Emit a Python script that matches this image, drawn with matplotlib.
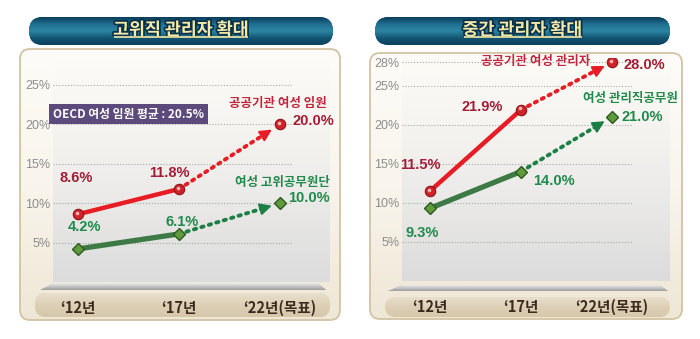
import numpy as np
import matplotlib.pyplot as plt
import matplotlib.colors as mcolors
import matplotlib.patheffects as pe
from matplotlib.patches import FancyBboxPatch, Polygon
from matplotlib.transforms import offset_copy

plt.rcParams['font.family'] = ['Noto Sans CJK KR', 'DejaVu Sans']

# ---------------- data ----------------
years = ["‘12년", "‘17년", "‘22년(목표)"]

left_title = "고위직 관리자 확대"
left_pub = [8.6, 11.8, 20.0]          # 공공기관 여성 임원
left_gov = [4.2, 6.1, 10.0]           # 여성 고위공무원단
left_ticks = [0, 5, 10, 15, 20, 25]
left_pub_name = "공공기관 여성 임원"
left_gov_name = "여성 고위공무원단"
oecd_text = "OECD 여성 임원 평균 : 20.5%"

right_title = "중간 관리자 확대"
right_pub = [11.5, 21.9, 28.0]        # 공공기관 여성 관리자
right_gov = [9.3, 14.0, 21.0]         # 여성 관리직공무원
right_ticks = [0, 5, 10, 15, 20, 25, 28]
right_pub_name = "공공기관 여성 관리자"
right_gov_name = "여성 관리직공무원"

RED = '#e81c24'
RED_TXT = '#a31d36'
RED_NAME = '#c3243e'
GREEN = '#3d7a45'
GREEN_DOT = '#1d7f45'
GREEN_TXT = '#1f8a4c'
NUM = ['Liberation Sans', 'DejaVu Sans']
KR = ['Noto Sans CJK KR', 'DejaVu Sans']

W, H = 700, 339
fig = plt.figure(figsize=(W / 100, H / 100), dpi=100)
fig.patch.set_facecolor('white')

bg = fig.add_axes([0, 0, 1, 1])
bg.set_xlim(0, W)
bg.set_ylim(H, 0)
bg.axis('off')


def vgrad(box, colors, alphas=None, clip=None, z=1):
    x0, y0, x1, y1 = box
    t = np.linspace(0, 1, 120)
    pos = np.linspace(0, 1, len(colors))
    rgb = np.array([mcolors.to_rgb(c) for c in colors])
    img = np.ones((120, 1, 4))
    for k in range(3):
        img[:, 0, k] = np.interp(t, pos, rgb[:, k])
    if alphas is not None:
        img[:, 0, 3] = np.interp(t, pos, alphas)
    im = bg.imshow(img, extent=(x0, x1, y1, y0), origin='upper',
                   aspect='auto', zorder=z, interpolation='bilinear')
    if clip is not None:
        im.set_clip_path(clip)
    return im


def rbox(x0, y0, w, h, r, fc, ec='none', lw=0, z=1):
    p = FancyBboxPatch((x0, y0), w, h, boxstyle=f'round,pad=0,rounding_size={r}',
                       fc=fc, ec=ec, lw=lw, zorder=z)
    bg.add_patch(p)
    return p


def decor(title, pill, panel, area, floor, band):
    # title pill
    x0, y0, x1, y1 = pill
    p = rbox(x0, y0, x1 - x0, y1 - y0, 14, '#1a5f80', z=2)
    vgrad(pill, ['#0a3d5a', '#1f6f90', '#2c86a3', '#145573', '#0b3f5c'], clip=p, z=2)
    t = bg.text((x0 + x1) / 2, (y0 + y1) / 2 - 1, title, ha='center', va='center',
                fontsize=12.5, fontweight='bold', color='#f4e9a6', zorder=4,
                path_effects=[pe.withStroke(linewidth=2.5, foreground='#08304a')])
    fig.canvas.draw()
    bb = t.get_window_extent().transformed(bg.transData.inverted())
    bg.plot([bb.x0 + 1, bb.x1 - 1], [max(bb.y0, bb.y1) - 2] * 2, color='#f4e9a6',
            lw=1.2, zorder=4, solid_capstyle='butt')

    # panel
    x0, y0, x1, y1 = panel
    p = rbox(x0, y0, x1 - x0, y1 - y0, 10, '#f8f4ea', z=1)
    vgrad(panel, ['#fdfcf8', '#f9f5ec', '#efe7d6'], clip=p, z=1)
    rbox(x0, y0, x1 - x0, y1 - y0, 10, 'none', ec='#d3c3a3', lw=1.3, z=3)

    # plot area shading
    vgrad(area, ['#f4f4f4', '#ececec', '#dcdcdc'], alphas=[0, 0.75, 1], z=1.5)

    # floor
    fx0, fx1, fy0, fy1 = floor
    poly = Polygon([(fx0 + 14, fy0), (fx1 - 8, fy0), (fx1, fy1), (fx0, fy1)],
                   closed=True, fc='#c8c8c8', ec='none', zorder=2)
    bg.add_patch(poly)
    vgrad((fx0, fy0, fx1, fy1), ['#ececec', '#c4c4c4', '#9b9b9b'], clip=poly, z=2)

    # x band
    x0, y0, x1, y1 = band
    p = rbox(x0, y0, x1 - x0, y1 - y0, 11, '#e1d5bd', z=2)
    vgrad(band, ['#e8dfcc', '#ddd0b6', '#d6c7aa'], clip=p, z=2)


decor(left_title, (29, 17, 333, 45), (20, 49, 340, 320), (53, 60, 330, 282),
      (40, 326, 283, 290), (35, 293, 330, 317))
decor(right_title, (375, 17, 670, 45), (370, 53, 682, 319), (402, 58, 670, 281),
      (388, 668, 285, 291), (385, 297, 670, 317))


def make_ax(box, xlim, ylim, ticks, grid_end):
    x0, y0, x1, y1 = box
    ax = fig.add_axes([x0 / W, 1 - y1 / H, (x1 - x0) / W, (y1 - y0) / H])
    ax.patch.set_alpha(0)
    ax.set_xlim(*xlim)
    ax.set_ylim(*ylim)
    for s in ax.spines.values():
        s.set_visible(False)
    ax.hlines(ticks, xlim[0], grid_end, colors='#a8a8a8', lw=0.8,
              linestyles=(0, (1, 1.6)), zorder=1)
    ax.set_yticks(ticks[1:], [f'{v}%' for v in ticks[1:]])
    ax.tick_params(axis='y', length=0, pad=2, labelsize=9, labelcolor='#8c8c8c')
    for lab in ax.get_yticklabels():
        lab.set_family(NUM)
    ax.set_xticks(range(len(years)), years)
    ax.tick_params(axis='x', length=0, pad=13, labelsize=10.5, labelcolor='#3d2a1e')
    for lab in ax.get_xticklabels():
        lab.set_fontweight('bold')
    return ax


def series(ax, vals, kind):
    xs = np.arange(len(vals))
    if kind == 'red':
        lc, dc = RED, RED
    else:
        lc, dc = GREEN, GREEN_DOT
    ax.plot(xs[:2], vals[:2], color=lc, lw=3.2 if kind == 'red' else 3.8,
            solid_capstyle='round', zorder=3)
    a = np.array([xs[1], vals[1]], float)
    b = np.array([xs[2], vals[2]], float)
    end = a + 0.86 * (b - a)
    ax.plot([a[0], end[0]], [a[1], end[1]], color=dc, lw=2.8,
            linestyle=(0, (0.6, 1.4)), dash_capstyle='round', zorder=3)
    tip = a + 0.92 * (b - a)
    tail = a + 0.84 * (b - a)
    ax.annotate('', xy=tip, xytext=tail,
                arrowprops=dict(arrowstyle='-|>,head_width=0.35,head_length=0.7',
                                color=dc, lw=1.5, shrinkA=0, shrinkB=0), zorder=3)
    if kind == 'red':
        ax.plot(xs, vals, 'o', ms=7.5, mfc='#cf2329', mec='#8e1318', mew=0.8, zorder=4)
        hl = offset_copy(ax.transData, fig=fig, x=-1, y=1.5, units='dots')
        ax.plot(xs, vals, 'o', ms=2.6, mfc='#f6b7b7', mec='none', transform=hl, zorder=5)
    else:
        ax.plot(xs, vals, 'D', ms=6.2, mfc='#5f9a3c', mec='#2d5a1e', mew=1, zorder=4)


def label(ax, x, y, s, dx, dy, color, size=10.5, ha='center', family=NUM):
    ax.annotate(s, (x, y), xytext=(dx * 0.72, dy * 0.72), textcoords='offset points',
                ha=ha, va='center', fontsize=size, fontweight='bold', color=color,
                family=family, zorder=6)


# ---------------- left panel ----------------
axL = make_ax((53, 60, 330, 282), (-0.2475, 2.495), (0, 28.17), left_ticks, 2.12)
series(axL, left_pub, 'red')
series(axL, left_gov, 'green')

label(axL, 0, left_pub[0], f'{left_pub[0]:.1f}%', -2, 36, RED_TXT)
label(axL, 1, left_pub[1], f'{left_pub[1]:.1f}%', -10, 16, RED_TXT)
label(axL, 2, left_pub[2], f'{left_pub[2]:.1f}%', 12, 3, RED_TXT, ha='left')
label(axL, 2, left_pub[2], left_pub_name, -2, 21, RED_NAME, size=9, family=KR)
label(axL, 0, left_gov[0], f'{left_gov[0]:.1f}%', 7, 22, GREEN_TXT)
label(axL, 1, left_gov[1], f'{left_gov[1]:.1f}%', 3, 12, GREEN_TXT)
label(axL, 2, left_gov[2], f'{left_gov[2]:.1f}%', 8, 5, GREEN_TXT, ha='left')
label(axL, 2, left_gov[2], left_gov_name, 2, 21, GREEN_TXT, size=9, family=KR)

axL.text(-0.2475, 20.5 + 0.8, oecd_text, ha='left', va='center', fontsize=8.5,
         color='white', fontweight='bold', zorder=6,
         bbox=dict(boxstyle='square,pad=0.3', fc='#5d4a7c', ec='none'))

# ---------------- right panel ----------------
axR = make_ax((402, 58, 670, 281), (-0.3077, 2.637), (0, 28.52), right_ticks, 2.22)
series(axR, right_pub, 'red')
series(axR, right_gov, 'green')

label(axR, 0, right_pub[0], f'{right_pub[0]:.1f}%', -10, 26, RED_TXT)
label(axR, 1, right_pub[1], f'{right_pub[1]:.1f}%', -18, 3, RED_TXT, ha='right')
label(axR, 2, right_pub[2], f'{right_pub[2]:.1f}%', 11, -3, RED_TXT, ha='left')
label(axR, 2, right_pub[2], right_pub_name, -22, 1, RED_NAME, size=9, ha='right', family=KR)
label(axR, 0, right_gov[0], f'{right_gov[0]:.1f}%', -8, -25, GREEN_TXT)
label(axR, 1, right_gov[1], f'{right_gov[1]:.1f}%', 12, -9, GREEN_TXT, ha='left')
label(axR, 2, right_gov[2], f'{right_gov[2]:.1f}%', 9, 0, GREEN_TXT, ha='left')
label(axR, 2, right_gov[2], right_gov_name, 18, 18, GREEN_TXT, size=9, family=KR)

bg.set_xlim(0, W)
bg.set_ylim(H, 0)
fig.savefig('out.png', dpi=100)
